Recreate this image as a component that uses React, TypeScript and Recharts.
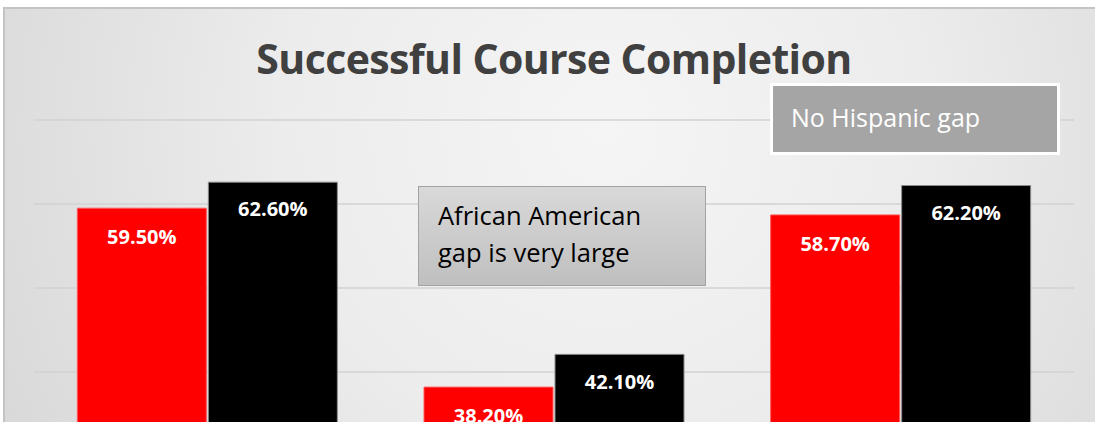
import React from "react";
import { BarChart, Bar, XAxis, YAxis, CartesianGrid, LabelList } from "recharts";

const categories = ["Overall", "African American", "Hispanic"];
const redValues = [59.5, 38.2, 58.7];
const blackValues = [62.6, 42.1, 62.2];
const yTicks = [0, 10, 20, 30, 40, 50, 60, 70];
const titleText = "Successful Course Completion";
const noteHispanic = "No Hispanic gap";
const noteAfrican = ["African American", "gap is very large"];

const data = categories.map((c, i) => ({ name: c, red: redValues[i], black: blackValues[i] }));

const fmt = (v: any) => `${Number(v).toFixed(2)}%`;

export default function App() {
  return (
    <div
      style={{
        position: "fixed",
        left: 0,
        top: 0,
        width: 1095,
        height: 422,
        overflow: "hidden",
        background: "#ffffff",
        fontFamily: "'Open Sans', sans-serif",
      }}
    >
      <div
        style={{
          position: "absolute",
          left: 3,
          top: 7,
          width: 1200,
          height: 600,
          borderTop: "2px solid #c4c4c4",
          borderLeft: "2px solid #c4c4c4",
          background:
            "radial-gradient(ellipse 60% 120% at 50% 20%, #f5f5f5 0%, #ececec 45%, #d6d6d6 100%)",
        }}
      />
      <div style={{ position: "absolute", left: 0, top: 0 }}>
        <BarChart
          width={1095}
          height={720}
          data={data}
          margin={{ top: 120, right: 21, bottom: 12, left: 34 }}
          barCategoryGap="12.5%"
          barGap={2}
        >
          <CartesianGrid vertical={false} horizontalValues={yTicks} stroke="#d2d2d2" strokeWidth={1.5} />
          <XAxis dataKey="name" hide />
          <YAxis domain={[0, 70]} ticks={yTicks} hide />
          <Bar dataKey="red" fill="#ff0000" stroke="#ff5a5a" strokeWidth={1} isAnimationActive={false}>
            <LabelList
              dataKey="red"
              position="insideTop"
              offset={22}
              formatter={fmt}
              fill="#ffffff"
              style={{ fontSize: 20, fontWeight: 700, fontFamily: "'Open Sans', sans-serif" }}
            />
          </Bar>
          <Bar dataKey="black" fill="#000000" stroke="#8c8c8c" strokeWidth={1} isAnimationActive={false}>
            <LabelList
              dataKey="black"
              position="insideTop"
              offset={20}
              formatter={fmt}
              fill="#ffffff"
              style={{ fontSize: 20, fontWeight: 700, fontFamily: "'Open Sans', sans-serif" }}
            />
          </Bar>
        </BarChart>
      </div>
      <div
        style={{
          position: "absolute",
          left: 0,
          width: 1108,
          top: 30,
          textAlign: "center",
          fontSize: 41,
          fontWeight: 700,
          color: "#404040",
          letterSpacing: -0.6,
          lineHeight: "56px",
        }}
      >
        {titleText}
      </div>
      <div
        style={{
          position: "absolute",
          left: 770,
          top: 83,
          width: 290,
          height: 72,
          border: "3px solid #ffffff",
          background: "#a5a5a5",
          color: "#ffffff",
          fontSize: 25,
          lineHeight: "62px",
          paddingLeft: 18,
          boxSizing: "border-box",
        }}
      >
        {noteHispanic}
      </div>
      <div
        style={{
          position: "absolute",
          left: 418,
          top: 186,
          width: 288,
          height: 100,
          border: "1px solid #a3a3a3",
          background: "linear-gradient(#d9d9d9, #bfbfbf)",
          color: "#000000",
          fontSize: 25.5,
          lineHeight: "37px",
          paddingLeft: 19,
          paddingTop: 10,
          boxSizing: "border-box",
        }}
      >
        <div>{noteAfrican[0]}</div>
        <div>{noteAfrican[1]}</div>
      </div>
    </div>
  );
}
